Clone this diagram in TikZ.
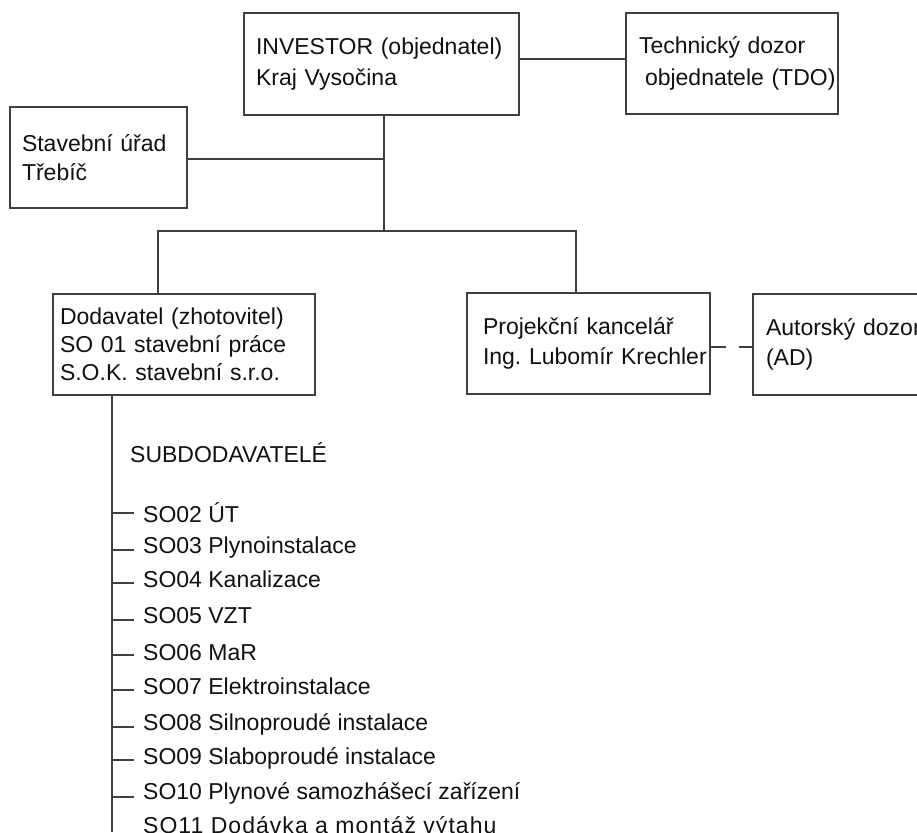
\documentclass[tikz,border=0pt]{standalone}
\usepackage{fontspec}
\setmainfont{Liberation Sans}
\frenchspacing
\definecolor{ln}{HTML}{404040}
\definecolor{tx}{HTML}{111111}
\begin{document}
\begin{tikzpicture}[x=1pt,y=-1pt,
  every node/.style={text=tx,font=\fontsize{23}{30}\selectfont},
  box/.style={draw=ln,line width=1.2pt,rectangle,align=left,inner ysep=0pt,anchor=center},
  conn/.style={draw=ln,line width=1.2pt},
  item/.style={anchor=base west,inner sep=0pt}]
\useasboundingbox (0,0) rectangle (917,832);
\clip (0,0) rectangle (917,832);
\fill[white] (0,0) rectangle (917,832);

% boxes
\node[box,minimum width=275pt,minimum height=102pt,text width=251pt,inner xsep=12pt,
  font=\fontsize{23}{31.5}\selectfont] (inv) at (381.5,64)
  {\mbox{INVESTOR (objednatel)}\\\mbox{Kraj Vysočina}};
\node[box,minimum width=212pt,minimum height=101pt,text width=186pt,inner xsep=13pt,
  font=\fontsize{23}{31.5}\selectfont] (tdo) at (732,63.5)
  {\mbox{Technický dozor}\\\mbox{\hspace*{6pt}objednatele (TDO)}};
\node[box,minimum width=177pt,minimum height=101pt,text width=153pt,inner xsep=12pt,
  font=\fontsize{23}{28.5}\selectfont] (stav) at (98.5,157.5)
  {\mbox{Stavební úřad}\\\mbox{Třebíč}};
\node[box,minimum width=262pt,minimum height=101pt,text width=248pt,inner xsep=7pt,
  font=\fontsize{23}{28}\selectfont] (dod) at (184,344.5)
  {\mbox{Dodavatel (zhotovitel)}\\\mbox{SO 01 stavební práce}\\\mbox{S.O.K. stavební s.r.o.}};
\node[box,minimum width=243pt,minimum height=101pt,text width=211pt,inner xsep=16pt,
  font=\fontsize{23}{30.5}\selectfont] (proj) at (588.5,343.5)
  {\mbox{Projekční kancelář}\\\mbox{Ing. Lubomír Krechler}};
\node[box,minimum width=200pt,minimum height=101pt,text width=174pt,inner xsep=13pt,
  font=\fontsize{23}{29.5}\selectfont] (ad) at (853,344.5)
  {\mbox{Autorský dozor}\\\mbox{(AD)}};

% connectors
\coordinate (trunk) at (384,231);
\coordinate (bl) at (158,231);
\coordinate (br) at (576,231);
\coordinate (sp) at (112,832);
\draw[conn] ([yshift=5pt]inv.east) -- ([yshift=5pt]inv.east -| tdo.west);
\draw[conn] (trunk |- inv.south) -- (trunk);
\draw[conn] ([yshift=-1.5pt]stav.east) -- ([yshift=-1.5pt]stav.east -| trunk);
\draw[conn] (dod.north -| bl) -- (bl) -- (br) -- (br |- proj.north);
\draw[conn,dash pattern=on 15pt off 13pt] ([yshift=-3.5pt]proj.east) -- ([yshift=-3.5pt]proj.east -| ad.west);
\draw[conn] (dod.south -| sp) -- (sp);

% subcontractors
\node[item] (sub) at (130,462) {SUBDODAVATELÉ};
\node[item] (i02) at (143,522) {SO02 ÚT};
\node[item] (i03) at (143,553.5) {SO03 Plynoinstalace};
\node[item] (i04) at (143,587) {SO04 Kanalizace};
\node[item] (i05) at (143,623) {SO05 VZT};
\node[item] (i06) at (143,660) {SO06 MaR};
\node[item] (i07) at (143,694) {SO07 Elektroinstalace};
\node[item] (i08) at (143,730) {SO08 Silnoproudé instalace};
\node[item] (i09) at (143,764) {SO09 Slaboproudé instalace};
\node[item] (i10) at (143,799) {SO10 Plynové samozhášecí zařízení};
\node[item] (i11) at (143,833) {\addfontfeatures{LetterSpace=4.5}SO11 Dodávka a montáž výtahu};

\foreach \n/\yy in {02/513,03/550,04/583,05/620,06/655,07/690,08/727,09/760,10/797}{
  \coordinate (k\n) at (112,\yy);
  \draw[conn] (k\n) -- ++(22,0);
}
\end{tikzpicture}
\end{document}
